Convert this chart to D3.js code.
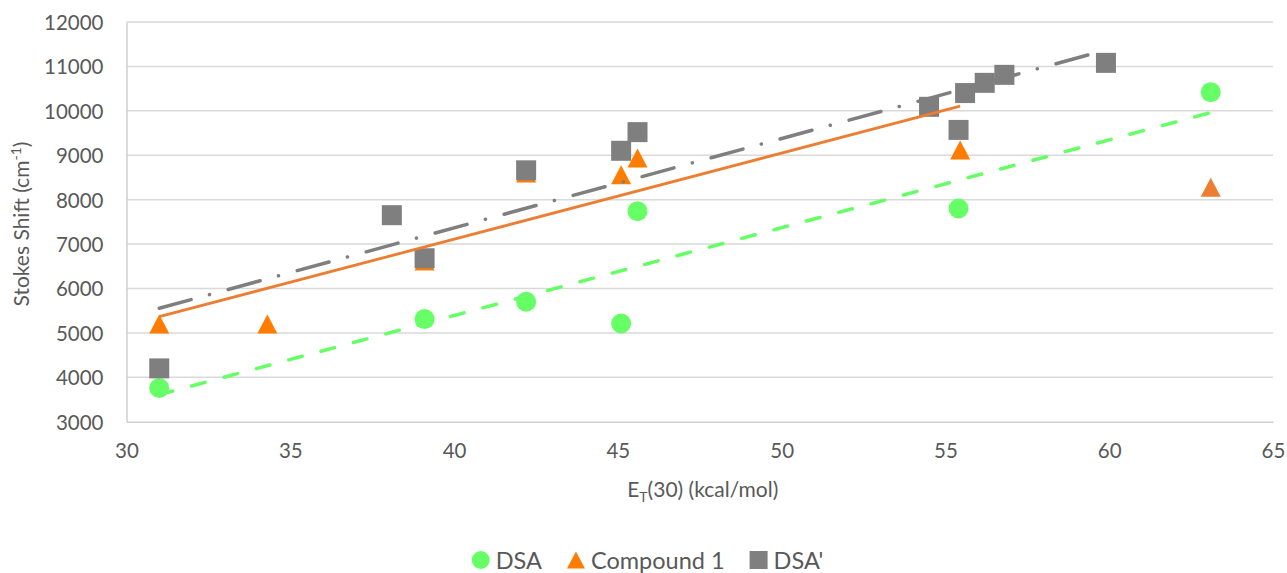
<!DOCTYPE html>
<html>
<head>
<meta charset="utf-8">
<script src="https://cdn.jsdelivr.net/npm/d3@7"></script>
<style>
  html, body { margin: 0; padding: 0; background: #fff; }
  svg { display: block; }
  text { font-family: Lato, "Open Sans", sans-serif; fill: #595959; }
</style>
</head>
<body>
<svg id="chart" width="1287" height="573"></svg>
<script>
// ET(30) solvent polarity (kcal/mol) vs Stokes shift (cm^-1)
const etDSA = [31.0, 39.1, 42.2, 45.1, 45.6, 55.4, 63.1];
const ssDSA = [3760, 5310, 5700, 5210, 7740, 7800, 10420];

const etCompound1 = [31.0, 34.3, 39.1, 42.2, 45.1, 45.6, 55.45];
const ssCompound1 = [5200, 5200, 6620, 8600, 8560, 8940, 9120];
// point plotted but left out of the linear fit
const etCompound1Extra = [63.1];
const ssCompound1Extra = [8280];

const etDSAp = [31.0, 38.1, 39.1, 42.2, 45.1, 45.6, 54.5, 55.4, 55.6, 56.2, 56.8, 59.9];
const ssDSAp = [4200, 7650, 6680, 8660, 9100, 9520, 10090, 9570, 10400, 10630, 10810, 11080];

const xTicks = [30, 35, 40, 45, 50, 55, 60, 65];
const yTicks = [3000, 4000, 5000, 6000, 7000, 8000, 9000, 10000, 11000, 12000];

const svg = d3.select("#chart");
const x = d3.scaleLinear().domain([30, 65]).range([126.5, 1273]);
const y = d3.scaleLinear().domain([3000, 12000]).range([421.7, 22]);

// horizontal gridlines
svg.append("g")
  .selectAll("line")
  .data(yTicks.slice(1))
  .join("line")
  .attr("x1", x(30)).attr("x2", x(65))
  .attr("y1", d => y(d)).attr("y2", d => y(d))
  .attr("stroke", "#d9d9d9").attr("stroke-width", 1.5);

// axes
const xAxis = svg.append("g")
  .attr("transform", `translate(0,${y(3000)})`)
  .call(d3.axisBottom(x).tickValues(xTicks).tickSize(0).tickPadding(22).tickFormat(d3.format("d")));
const yAxis = svg.append("g")
  .attr("transform", `translate(${x(30)},0)`)
  .call(d3.axisLeft(y).tickValues(yTicks).tickSize(0).tickPadding(23).tickFormat(d3.format("d")));
[xAxis, yAxis].forEach(a => {
  a.select(".domain").attr("stroke", "#cfcfcf").attr("stroke-width", 1.5);
  a.selectAll("text").attr("font-size", 20.5).attr("fill", "#595959")
    .attr("font-family", "Lato, 'Open Sans', sans-serif");
});
yAxis.selectAll("text").attr("dy", "0.36em");

// least-squares trendline across a series' x range
function fit(xs, ys) {
  const mx = d3.mean(xs), my = d3.mean(ys);
  let sxy = 0, sxx = 0;
  xs.forEach((v, i) => { sxy += (v - mx) * (ys[i] - my); sxx += (v - mx) * (v - mx); });
  const b = sxy / sxx, a = my - b * mx;
  const [lo, hi] = d3.extent(xs);
  return [[lo, a + b * lo], [hi, a + b * hi]];
}

const green = "#66ff66", orange = "#ff7c00", orangeSoft = "#ed7d31", gray = "#7f7f7f";

function triPath(w) {
  // isosceles triangle, w wide, centred on its bounding box
  const h = w * 0.95;
  return `M0,${-h / 2}L${w / 2},${h / 2}L${-w / 2},${h / 2}Z`;
}

const marks = svg.append("g");
// DSA circles
marks.append("g").selectAll("circle")
  .data(etDSA.map((v, i) => [v, ssDSA[i]]))
  .join("circle")
  .attr("cx", d => x(d[0])).attr("cy", d => y(d[1])).attr("r", 10)
  .attr("fill", green);
// Compound 1 triangles
marks.append("g").selectAll("path")
  .data(etCompound1.map((v, i) => [v, ssCompound1[i]]))
  .join("path")
  .attr("d", triPath(20))
  .attr("transform", d => `translate(${x(d[0])},${y(d[1])})`)
  .attr("fill", orange);
marks.append("g").selectAll("path")
  .data(etCompound1Extra.map((v, i) => [v, ssCompound1Extra[i]]))
  .join("path")
  .attr("d", triPath(20))
  .attr("transform", d => `translate(${x(d[0])},${y(d[1])})`)
  .attr("fill", orangeSoft);
// DSA' squares
marks.append("g").selectAll("rect")
  .data(etDSAp.map((v, i) => [v, ssDSAp[i]]))
  .join("rect")
  .attr("x", d => x(d[0]) - 10).attr("y", d => y(d[1]) - 10)
  .attr("width", 20).attr("height", 20)
  .attr("fill", gray);

// trendlines
const lineGen = d3.line().x(d => x(d[0])).y(d => y(d[1]));
const trends = svg.append("g").attr("fill", "none");
trends.append("path").datum(fit(etDSA, ssDSA)).attr("d", lineGen)
  .attr("stroke", green).attr("stroke-width", 3.5)
  .attr("stroke-linecap", "round").attr("stroke-dasharray", "14 19.5");
trends.append("path").datum(fit(etCompound1, ssCompound1)).attr("d", lineGen)
  .attr("stroke", orangeSoft).attr("stroke-width", 2.8);
trends.append("path").datum(fit(etDSAp, ssDSAp)).attr("d", lineGen)
  .attr("stroke", gray).attr("stroke-width", 3.5)
  .attr("stroke-linecap", "round").attr("stroke-dasharray", "33 19 0.1 19.4");

// axis titles
const xt = svg.append("text")
  .attr("x", (x(30) + x(65)) / 2 + 3).attr("y", 497)
  .attr("text-anchor", "middle").attr("font-size", 21);
xt.append("tspan").text("E");
xt.append("tspan").attr("font-size", 14).attr("dy", 5).text("T");
xt.append("tspan").attr("dy", -5).text("(30) (kcal/mol)");

const yt = svg.append("text")
  .attr("transform", `translate(29,${y(7450)})rotate(-90)`)
  .attr("text-anchor", "middle").attr("font-size", 21);
yt.append("tspan").text("Stokes Shift (cm");
yt.append("tspan").attr("font-size", 14).attr("dy", -8).text("-1");
yt.append("tspan").attr("dy", 8).text(")");

// legend
const legendItems = [
  { name: "DSA", color: green, kind: "circle" },
  { name: "Compound 1", color: orange, kind: "triangle" },
  { name: "DSA'", color: gray, kind: "square" }
];
const legend = svg.append("g");
let lx = 0;
const items = legend.selectAll("g").data(legendItems).join("g");
items.each(function (d) {
  const g = d3.select(this);
  if (d.kind === "circle") g.append("circle").attr("cx", 9).attr("cy", 0).attr("r", 9).attr("fill", d.color);
  if (d.kind === "triangle") g.append("path").attr("d", triPath(18)).attr("transform", "translate(9,0)").attr("fill", d.color);
  if (d.kind === "square") g.append("rect").attr("x", 0).attr("y", -9).attr("width", 18).attr("height", 18).attr("fill", d.color);
  const t = g.append("text").attr("x", 24).attr("y", 8.5).attr("font-size", 23.5).text(d.name);
  const w = 24 + t.node().getComputedTextLength();
  g.attr("transform", `translate(${lx},0)`);
  lx += w + 25;
});
const totalW = lx - 25;
legend.attr("transform", `translate(${647.5 - totalW / 2},560)`);
</script>
</body>
</html>
